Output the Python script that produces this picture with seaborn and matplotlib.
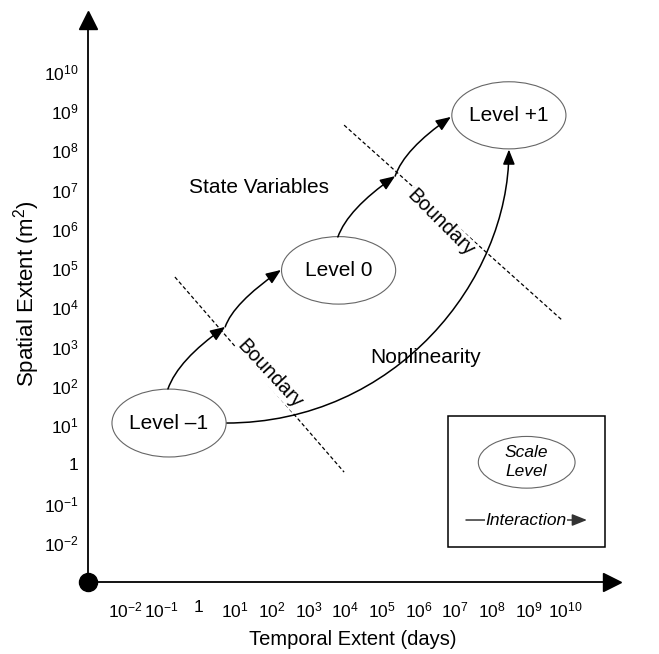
import matplotlib
matplotlib.use('Agg')
import matplotlib.pyplot as plt
import seaborn as sns
from matplotlib.patches import Ellipse, FancyArrowPatch, Rectangle
from matplotlib.path import Path

# both axes are in decades (log10 of days / m^2)
x_decades = list(range(-2, 11))
y_decades = list(range(-2, 11))

# scale levels (centre, size in decades)
level_names = ['Level \u20131', 'Level 0', 'Level +1']
level_x = [-0.80, 3.82, 8.46]
level_y = [1.05, 4.94, 8.89]
level_w = [3.11, 3.11, 3.11]
level_h = [1.73, 1.72, 1.71]

# dashed boundaries
boundary_x = [[-0.64, 3.97], [3.97, 9.90]]
boundary_y = [[4.77, -0.20], [8.64, 3.68]]
boundary_label_x = [1.95, 6.60]
boundary_label_y = [2.30, 6.16]
boundary_angle = [-47, -45]

# interaction steps: start, control, end (quadratic curves)
step_x = [[-0.83, -0.55, 0.73], [0.73, 0.95, 2.25],
          [3.80, 4.07, 5.36], [5.36, 5.61, 6.88]]
step_y = [[1.92, 2.66, 3.50], [3.50, 4.10, 4.95],
          [5.79, 6.50, 7.34], [7.34, 8.03, 8.85]]

# nonlinearity jump from level -1 to level +1 (cubic curve)
nonlin_x = [0.75, 5.38, 8.46, 8.46]
nonlin_y = [1.05, 1.05, 4.69, 8.02]

# free text labels
note_text = ['State Variables', 'Nonlinearity']
note_x = [1.65, 6.19]
note_y = [7.04, 2.71]

sns.set_style('white')
plt.rcParams['font.family'] = ['Liberation Sans', 'DejaVu Sans']
plt.rcParams['mathtext.fontset'] = 'custom'
plt.rcParams['mathtext.rm'] = 'Liberation Sans'
plt.rcParams['mathtext.it'] = 'Liberation Sans:italic'
plt.rcParams['mathtext.bf'] = 'Liberation Sans:bold'
for k in ['text.color', 'axes.labelcolor', 'xtick.color', 'ytick.color']:
    plt.rcParams[k] = 'black'

W, H = 659, 654
fig = plt.figure(figsize=(W / 100, H / 100), dpi=100)
ax = fig.add_axes([88.3 / W, 72 / H, (612 - 88.3) / W, (582 - 20) / H])
ax.set_xlim(-3, -3 + (612 - 88.3) / 36.7)
ax.set_ylim(-3, -3 + (582 - 20) / 39.25)

for s in ['top', 'right']:
    ax.spines[s].set_visible(False)
for s in ['left', 'bottom']:
    ax.spines[s].set_linewidth(1.3)
    ax.spines[s].set_color('black')

def pow_label(n):
    return '1' if n == 0 else '$10^{%d}$' % n

ax.set_xticks(x_decades)
ax.set_xticklabels([pow_label(n) for n in x_decades])
ax.set_yticks(y_decades)
ax.set_yticklabels([pow_label(n) for n in y_decades])
ax.tick_params(axis='both', direction='in', length=5.5, width=1, labelsize=12.5)
ax.tick_params(axis='x', pad=13)
ax.tick_params(axis='y', pad=7)

ax.set_xlabel('Temporal Extent (days)', fontsize=14.5)
ax.set_ylabel('Spatial Extent (m$^2$)', fontsize=16)
ax.xaxis.set_label_coords(0.5055, -0.086)
ax.yaxis.set_label_coords(-0.088, 0.5125)

# axis arrowheads and origin dot
ax.plot(1, 0, '>k', ms=12.5, transform=ax.transAxes, clip_on=False)
ax.plot(0, 1, '^k', ms=12.5, transform=ax.transAxes, clip_on=False)
ax.plot(0, 0, 'ok', ms=13, transform=ax.transAxes, clip_on=False)

# boundaries
for bx, by, lx, ly, ang in zip(boundary_x, boundary_y, boundary_label_x, boundary_label_y, boundary_angle):
    sns.lineplot(x=bx, y=by, ax=ax, color='black', lw=0.9, linestyle=(0, (3, 2)), sort=False)
    ax.text(lx, ly, 'Boundary', fontsize=14.5, rotation=ang, rotation_mode='anchor',
            ha='center', va='center', zorder=2.5,
            bbox=dict(facecolor='white', edgecolor='none', pad=0.3))

# scale levels
for name, cx, cy, w, h in zip(level_names, level_x, level_y, level_w, level_h):
    ax.add_patch(Ellipse((cx, cy), w, h, facecolor='white', edgecolor='#666666', lw=0.8, zorder=3))
    ax.text(cx, cy, name, fontsize=15, ha='center', va='center', zorder=4)

arrow_style = '-|>,head_length=0.9,head_width=0.36'
for sx, sy in zip(step_x, step_y):
    p = Path(list(zip(sx, sy)), [Path.MOVETO, Path.CURVE3, Path.CURVE3])
    ax.add_patch(FancyArrowPatch(path=p, arrowstyle=arrow_style, mutation_scale=10,
                                 lw=1.1, color='black', zorder=5))

p = Path(list(zip(nonlin_x, nonlin_y)), [Path.MOVETO, Path.CURVE4, Path.CURVE4, Path.CURVE4])
ax.add_patch(FancyArrowPatch(path=p, arrowstyle=arrow_style, mutation_scale=10,
                             lw=1.1, color='black', zorder=2.7))

for t, tx, ty in zip(note_text, note_x, note_y):
    ax.text(tx, ty, t, fontsize=15, ha='center', va='center')

# legend box
ax.add_patch(Rectangle((0.6869, 0.0623), 0.2998, 0.2331, transform=ax.transAxes,
                       facecolor='white', edgecolor='black', lw=1.1, zorder=6))
ax.add_patch(Ellipse((0.8371, 0.2130), 0.1847, 0.092, transform=ax.transAxes,
                     facecolor='white', edgecolor='#666666', lw=0.8, zorder=7))
ax.text(0.8371, 0.2130, 'Scale\nLevel', transform=ax.transAxes, fontsize=12.5,
        style='italic', ha='center', va='center', linespacing=1.35, zorder=8)
ax.annotate('', xy=(0.9522, 0.1103), xytext=(0.7212, 0.1103), xycoords='axes fraction',
            arrowprops=dict(arrowstyle=arrow_style, mutation_scale=10, lw=1.1,
                            color='#333333', shrinkA=0, shrinkB=0), zorder=7)
ax.text(0.8358, 0.1103, 'Interaction', transform=ax.transAxes, fontsize=12.5,
        style='italic', ha='center', va='center', zorder=8,
        bbox=dict(facecolor='white', edgecolor='none', pad=0.5))

fig.savefig('out.png', dpi=100)
